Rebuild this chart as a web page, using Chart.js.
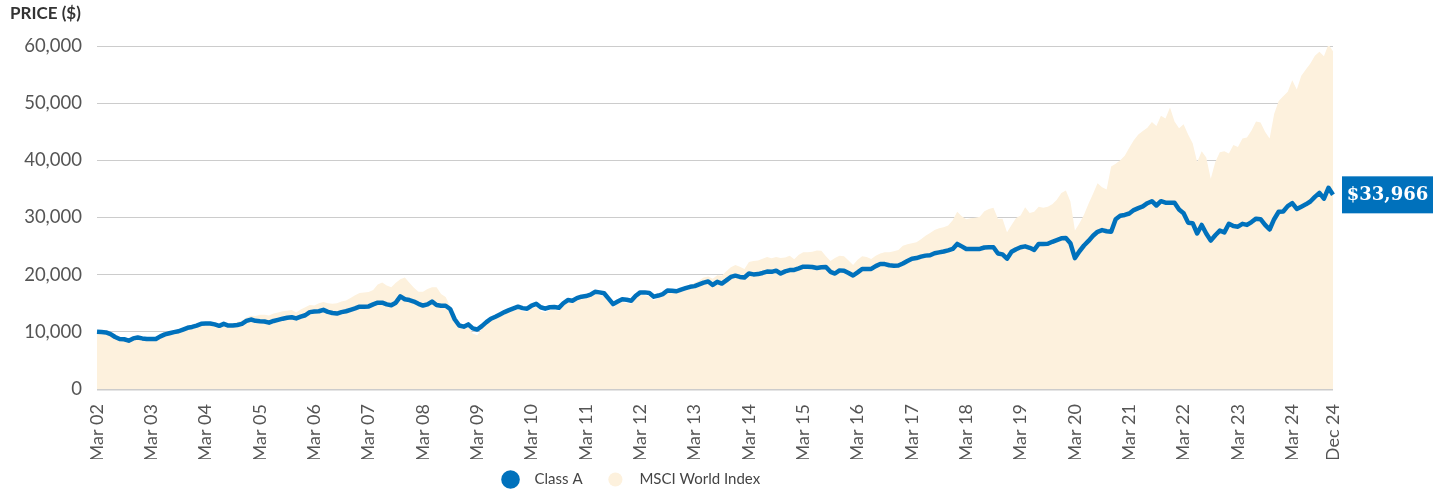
<!DOCTYPE html>
<html>
<head>
<meta charset="utf-8">
<script src="https://cdn.jsdelivr.net/npm/chart.js@4/dist/chart.umd.min.js"></script>
<style>
  html, body { margin: 0; padding: 0; background: #fff; }
  #wrap { position: relative; width: 1442px; height: 491px; }
</style>
</head>
<body>
<div id="wrap"><canvas id="priceChart"></canvas></div>
<script>
// month labels, Mar 02 .. Dec 24
const monthNames = ["Jan", "Feb", "Mar", "Apr", "May", "Jun", "Jul", "Aug", "Sep", "Oct", "Nov", "Dec"];
const categories = [];
for (let i = 0; i < 274; i++) {
  const m = (2 + i) % 12;
  const yr = 2002 + Math.floor((2 + i) / 12);
  categories.push(monthNames[m] + " " + String(yr).slice(2));
}

const tickLabels = [
  "Mar 02", "Mar 03", "Mar 04", "Mar 05", "Mar 06", "Mar 07", "Mar 08", "Mar 09",
  "Mar 10", "Mar 11", "Mar 12", "Mar 13", "Mar 14", "Mar 15", "Mar 16", "Mar 17",
  "Mar 18", "Mar 19", "Mar 20", "Mar 21", "Mar 22", "Mar 23", "Mar 24", "Dec 24",
];

// Class A, one row per year (Mar..Feb)
const classA = [
  10000, 9950, 9900, 9600, 9100, 8750, 8700, 8450, 8850, 9000, 8850, 8750,
  8750, 8750, 9200, 9550, 9750, 9950, 10100, 10400, 10700, 10850, 11100, 11400,
  11450, 11450, 11300, 11050, 11400, 11100, 11100, 11200, 11400, 11900, 12150, 11930,
  11850, 11800, 11600, 11900, 12100, 12300, 12450, 12550, 12350, 12650, 12900, 13450,
  13550, 13600, 13850, 13500, 13300, 13200, 13450, 13600, 13850, 14100, 14400, 14400,
  14450, 14800, 15100, 15100, 14800, 14650, 15100, 16200, 15700, 15560, 15300, 14900,
  14600, 14800, 15300, 14700, 14560, 14560, 14000, 12200, 11100, 10900, 11300, 10600,
  10400, 11000, 11700, 12300, 12650, 13050, 13450, 13800, 14100, 14400, 14150, 14050,
  14600, 14900, 14300, 14050, 14300, 14350, 14200, 15000, 15560, 15450, 15900, 16150,
  16250, 16500, 17000, 16900, 16750, 15800, 14850, 15300, 15700, 15600, 15450, 16300,
  16900, 16900, 16800, 16150, 16350, 16600, 17250, 17200, 17100, 17400, 17650, 17880,
  18000, 18300, 18600, 18800, 18200, 18750, 18450, 19000, 19600, 19820, 19600, 19500,
  20200, 20050, 20100, 20300, 20550, 20500, 20700, 20200, 20580, 20800, 20820, 21100,
  21400, 21400, 21350, 21170, 21300, 21350, 20500, 20200, 20750, 20700, 20300, 19850,
  20400, 21000, 21000, 21000, 21500, 21870, 21850, 21650, 21580, 21600, 21950, 22400,
  22800, 22900, 23150, 23330, 23400, 23750, 23900, 24050, 24250, 24500, 25380, 24950,
  24500, 24500, 24500, 24500, 24750, 24790, 24790, 23700, 23550, 22800, 24000, 24450,
  24790, 24950, 24700, 24330, 25380, 25380, 25400, 25750, 26050, 26350, 26400, 25500,
  22900, 24100, 25100, 25900, 26800, 27500, 27800, 27600, 27500, 29700, 30300, 30450,
  30700, 31300, 31650, 31950, 32500, 32850, 32100, 32850, 32600, 32600, 32600, 31400,
  30750, 29100, 29000, 27200, 28700, 27200, 25960, 26900, 27700, 27400, 28900, 28500,
  28400, 28890, 28700, 29200, 29800, 29700, 28700, 27900, 29700, 31000, 31050, 32000,
  32500, 31500, 31900, 32300, 32800, 33600, 34300, 33300, 35200, 33966,
];

// MSCI World Index, same layout
const msciWorld = [
  10000, 9900, 9800, 9450, 8950, 8600, 8550, 8300, 8700, 8850, 8700, 8600,
  8650, 8650, 9100, 9500, 9750, 9950, 10100, 10450, 10750, 10950, 11200, 11500,
  11550, 11550, 11400, 11200, 11550, 11350, 11450, 11700, 12000, 12500, 12800, 12750,
  13000, 13000, 12850, 13200, 13400, 13600, 13700, 13800, 13400, 13900, 14300, 14700,
  14600, 15000, 15200, 15000, 14900, 15000, 15300, 15500, 15900, 16400, 16800, 16900,
  16950, 17300, 18300, 18650, 18100, 17800, 18600, 19200, 19500, 18600, 17700, 17000,
  17000, 17500, 17800, 17780, 16600, 16100, 14500, 12500, 11100, 10500, 10900, 9700,
  9400, 10500, 11300, 12000, 12400, 12800, 13200, 13500, 13700, 14000, 13600, 13500,
  14100, 14400, 13600, 13400, 13800, 13900, 13700, 14500, 15100, 15000, 15500, 15800,
  15900, 16200, 16600, 16400, 16200, 15200, 14200, 14900, 15200, 15000, 14900, 15900,
  16500, 16400, 16200, 15500, 15900, 16200, 16900, 16900, 17000, 17400, 17800, 18200,
  18600, 19000, 19500, 19700, 19300, 19900, 19800, 20600, 21300, 21700, 21400, 21000,
  22200, 22400, 22460, 22800, 23100, 22860, 23100, 22900, 23000, 23300, 22700, 23500,
  23900, 23920, 24000, 24210, 24200, 23200, 22400, 22900, 23330, 23200, 22500, 21700,
  22600, 23200, 23100, 22750, 23300, 23700, 23900, 23920, 24100, 24300, 25050, 25300,
  25500, 25650, 26200, 26800, 27300, 27800, 28100, 28300, 28590, 29500, 31000, 30200,
  29700, 29850, 29950, 30120, 31100, 31500, 31700, 29770, 29770, 27420, 28700, 29900,
  30350, 31810, 30800, 31000, 31900, 31700, 31900, 32300, 33100, 34300, 34740, 32800,
  27720, 29000, 30500, 32400, 34150, 36000, 35300, 34900, 38900, 39400, 40000, 40800,
  42200, 43500, 44500, 45140, 45700, 46700, 46000, 47800, 47310, 49240, 46800, 45600,
  46300, 44500, 43000, 39710, 41600, 40500, 36780, 39710, 41400, 41600, 41200, 42700,
  42340, 43800, 43980, 45200, 46800, 46600, 45000, 43800, 48100, 50400, 51200, 51980,
  54030, 52400, 54800, 55900, 56960, 58300, 59010, 58200, 60300, 59100,
];

const blue = "#0071bc";
const beige = "#fdf1dd";

const axisTitle = {
  id: "axisTitle",
  afterDraw(chart) {
    const ctx = chart.ctx;
    ctx.save();
    ctx.font = "bold 17px Lato";
    ctx.fillStyle = "#333333";
    ctx.textBaseline = "middle";
    ctx.textAlign = "left";
    ctx.fillText("PRICE ($)", 10, 14);
    ctx.restore();
  },
};

const endCallout = {
  id: "endCallout",
  afterDatasetsDraw(chart) {
    const meta = chart.getDatasetMeta(0);
    const last = meta.data[meta.data.length - 1];
    const ctx = chart.ctx;
    const boxX = chart.chartArea.right + 9;
    const boxW = 91;
    const boxH = 37;
    ctx.save();
    ctx.fillStyle = blue;
    ctx.fillRect(boxX, last.y - boxH / 2, boxW, boxH);
    ctx.font = "bold 18px 'DejaVu Serif'";
    ctx.fillStyle = "#ffffff";
    ctx.textAlign = "center";
    ctx.textBaseline = "middle";
    const v = classA[classA.length - 1];
    ctx.fillText("$" + v.toLocaleString("en-US"), boxX + boxW / 2, last.y + 1);
    ctx.restore();
  },
};

// nudge the legend a bit left, it sits off-centre in the original
const legendShift = {
  id: "legendShift",
  afterLayout(chart) {
    chart.legend.left -= 26;
    chart.legend.right -= 26;
  },
};

const ctx = document.getElementById("priceChart").getContext("2d");
new Chart(ctx, {
  type: "line",
  data: {
    labels: categories,
    datasets: [
      {
        label: "Class A",
        data: classA,
        borderColor: blue,
        backgroundColor: blue,
        borderWidth: 4.5,
        pointRadius: 0,
        tension: 0,
        fill: false,
        borderJoinStyle: "round",
      },
      {
        label: "MSCI World Index",
        data: msciWorld,
        borderColor: beige,
        backgroundColor: beige,
        borderWidth: 0,
        pointRadius: 0,
        tension: 0,
        fill: "origin",
      },
    ],
  },
  options: {
    responsive: true,
    maintainAspectRatio: false,
    animation: false,
    layout: { padding: { top: 46, right: 109, bottom: -6, left: 0 } },
    plugins: {
      legend: {
        position: "bottom",
        labels: {
          usePointStyle: true,
          pointStyle: "circle",
          boxWidth: 10,
          boxHeight: 10,
          padding: 13,
          color: "#444444",
          font: { family: "Lato", size: 15 },
          // more room between dot and text, and between the two items
          generateLabels: (chart) =>
            Chart.defaults.plugins.legend.labels.generateLabels(chart).map((item) => {
              item.text = "\u00a0\u00a0\u00a0" + item.text + "\u00a0\u00a0\u00a0\u00a0";
              return item;
            }),
        },
      },
      tooltip: { enabled: false },
    },
    scales: {
      x: {
        grid: { display: false },
        border: { display: false },
        ticks: {
          autoSkip: false,
          minRotation: 90,
          maxRotation: 90,
          padding: 7,
          color: "#555555",
          font: { family: "Lato", size: 18 },
          callback: function (value) {
            const label = this.getLabelForValue(value);
            return tickLabels.includes(label) ? label : null;
          },
        },
        afterFit: (scale) => {
          scale.height = 70;
        },
      },
      y: {
        min: 0,
        max: 60000,
        border: { display: false },
        grid: {
          color: "#cccccc",
          lineWidth: (c) => (c.tick && c.tick.value === 0 ? 2.5 : 1),
          drawTicks: false,
        },
        ticks: {
          stepSize: 10000,
          padding: 15,
          color: "#555555",
          font: { family: "Lato", size: 18.5 },
          callback: (v) => v.toLocaleString("en-US"),
        },
        afterFit: (scale) => {
          scale.width = 97;
        },
      },
    },
  },
  plugins: [axisTitle, endCallout, legendShift],
});
</script>
</body>
</html>
